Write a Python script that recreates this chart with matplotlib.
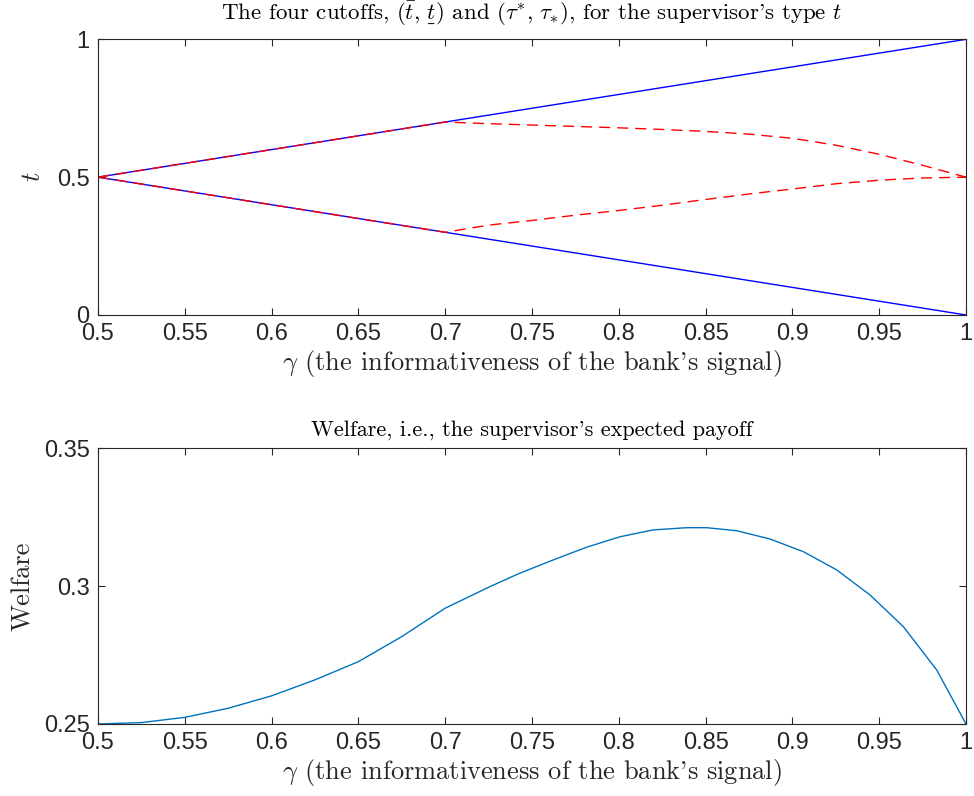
import matplotlib
matplotlib.use("Agg")
import matplotlib.pyplot as plt

plt.rcParams["mathtext.fontset"] = "cm"
plt.rcParams["axes.unicode_minus"] = False

# ---- top panel: cutoffs ----
gamma_ends = [0.5, 1.0]
t_bar = [0.5, 1.0]
t_under = [0.5, 0.0]

gamma_tau = [0.5, 0.55, 0.6, 0.65, 0.7, 0.725, 0.75, 0.775, 0.8, 0.825,
             0.85, 0.875, 0.9, 0.925, 0.95, 0.975, 1.0]
tau_upper = [0.5, 0.55, 0.6, 0.65, 0.700, 0.694, 0.689, 0.684, 0.679, 0.673,
             0.666, 0.656, 0.641, 0.616, 0.583, 0.543, 0.5]
tau_lower = [0.5, 0.45, 0.4, 0.35, 0.300, 0.326, 0.343, 0.362, 0.379, 0.398,
             0.419, 0.439, 0.457, 0.476, 0.489, 0.497, 0.5]

# ---- bottom panel: welfare ----
gamma_w = [0.5, 0.525, 0.55, 0.575, 0.6, 0.625, 0.65, 0.675, 0.7, 0.7257,
           0.743, 0.7622, 0.7814, 0.8006, 0.8198, 0.8391, 0.8506, 0.8679,
           0.8871, 0.9063, 0.9255, 0.9447, 0.9639, 0.9831, 1.0]
welfare = [0.2500, 0.2505, 0.2524, 0.2557, 0.2602, 0.2660, 0.2726, 0.2817,
           0.2920, 0.2998, 0.3047, 0.3095, 0.3141, 0.3179, 0.3204, 0.3212,
           0.3212, 0.3201, 0.3171, 0.3125, 0.3059, 0.2968, 0.2853, 0.2696,
           0.2500]

xticks = [0.5, 0.55, 0.6, 0.65, 0.7, 0.75, 0.8, 0.85, 0.9, 0.95, 1.0]
xticklabels = ["0.5", "0.55", "0.6", "0.65", "0.7", "0.75", "0.8", "0.85", "0.9", "0.95", "1"]

axcol = "#262626"
xlab = r"$\gamma$ (the informativeness of the bank's signal)"


def style(ax):
    ax.tick_params(direction="in", length=5, width=0.8, colors=axcol,
                   top=True, right=True, labelsize=17, pad=6)
    for lab in ax.get_xticklabels() + ax.get_yticklabels():
        lab.set_family("Liberation Sans")
    for s in ax.spines.values():
        s.set_color(axcol)
        s.set_linewidth(0.8)


fig = plt.figure(figsize=(9.74, 7.96), dpi=100)

ax1 = fig.add_axes([0.1006, 0.6043, 0.8912, 0.3463])
ax1.plot(gamma_ends, t_bar, color="blue", lw=1.0)
ax1.plot(gamma_ends, t_under, color="blue", lw=1.0)
ax1.plot(gamma_tau, tau_upper, color="red", lw=1.0, ls=(0, (8, 5)))
ax1.plot(gamma_tau, tau_lower, color="red", lw=1.0, ls=(0, (8, 5)))
ax1.set_xlim(0.5, 1)
ax1.set_ylim(0, 1)
ax1.set_xticks(xticks)
ax1.set_xticklabels(xticklabels)
ax1.set_yticks([0, 0.5, 1])
ax1.set_yticklabels(["0", "0.5", "1"])
style(ax1)
ax1.set_title(r"The four cutoffs, $(\bar{t},\,\underset{\_}{t})$ and $(\tau^{*},\,\tau_{*})$, for the supervisor's type $t$",
              family="cmr10", fontsize=16.5, color="black", pad=14)
ax1.set_xlabel(xlab, family="cmr10", fontsize=19, color=axcol, labelpad=2)
ax1.set_ylabel(r"$t$", fontsize=19, color=axcol, labelpad=8)

ax2 = fig.add_axes([0.1006, 0.0905, 0.8912, 0.3463])
ax2.plot(gamma_w, welfare, color="#0072BD", lw=1.0)
ax2.set_xlim(0.5, 1)
ax2.set_ylim(0.25, 0.35)
ax2.set_xticks(xticks)
ax2.set_xticklabels(xticklabels)
ax2.set_yticks([0.25, 0.3, 0.35])
ax2.set_yticklabels(["0.25", "0.3", "0.35"])
style(ax2)
ax2.set_title("Welfare, i.e., the supervisor's expected payoff",
              family="cmr10", fontsize=16, color="black", pad=9)
ax2.set_xlabel(xlab, family="cmr10", fontsize=19, color=axcol, labelpad=2)
ax2.set_ylabel("Welfare", family="cmr10", fontsize=19, color=axcol, labelpad=6)

fig.savefig("out.png", dpi=100)
